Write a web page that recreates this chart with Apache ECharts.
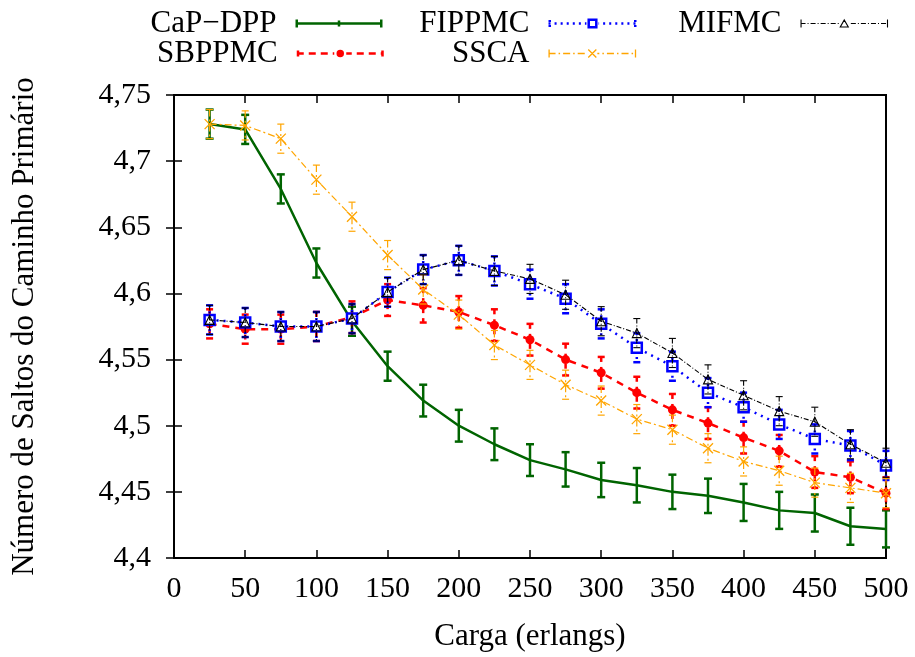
<!DOCTYPE html>
<html>
<head>
<meta charset="utf-8">
<script src="https://cdn.jsdelivr.net/npm/echarts@6/dist/echarts.min.js"></script>
<style>html,body{margin:0;padding:0;background:#fff}#c{width:915px;height:657px}</style>
</head>
<body>
<div id="c"></div>
<script>
// ---- data ----
const loads = [25,50,75,100,125,150,175,200,225,250,275,300,325,350,375,400,425,450,475,500];
const capDpp = [4.728,4.724,4.679,4.623,4.579,4.545,4.519,4.500,4.486,4.474,4.467,4.459,4.455,4.450,4.447,4.442,4.436,4.434,4.424,4.422];
const capErr = [0.011,0.011,0.011,0.011,0.011,0.011,0.012,0.012,0.012,0.012,0.013,0.013,0.013,0.013,0.013,0.014,0.014,0.014,0.014,0.014];
const sbppmc = [4.577,4.573,4.573,4.575,4.582,4.595,4.591,4.586,4.576,4.565,4.550,4.540,4.525,4.512,4.502,4.491,4.481,4.465,4.461,4.449];
const sbErr  = [0.011,0.011,0.011,0.011,0.012,0.012,0.013,0.012,0.012,0.012,0.012,0.012,0.012,0.012,0.012,0.012,0.012,0.012,0.012,0.012];
const fippmc = [4.580,4.578,4.575,4.575,4.581,4.601,4.618,4.625,4.617,4.607,4.596,4.577,4.559,4.545,4.525,4.514,4.501,4.490,4.485,4.470];
const fiErr  = [0.011,0.011,0.011,0.011,0.011,0.011,0.011,0.011,0.011,0.011,0.011,0.011,0.011,0.011,0.011,0.011,0.011,0.011,0.011,0.011];
const ssca   = [4.728,4.727,4.717,4.686,4.658,4.629,4.603,4.584,4.561,4.546,4.531,4.519,4.505,4.497,4.483,4.473,4.466,4.457,4.453,4.449];
const sscaErr= [0.011,0.011,0.011,0.011,0.011,0.011,0.011,0.011,0.011,0.011,0.011,0.011,0.011,0.011,0.011,0.011,0.011,0.011,0.011,0.011];
const mifmc  = [4.580,4.578,4.575,4.575,4.581,4.601,4.618,4.625,4.617,4.611,4.599,4.579,4.570,4.555,4.535,4.523,4.511,4.503,4.486,4.472];
const miErr  = [0.011,0.011,0.011,0.011,0.011,0.011,0.011,0.011,0.011,0.011,0.011,0.011,0.011,0.011,0.011,0.011,0.011,0.011,0.011,0.011];
const xTicks = [0,50,100,150,200,250,300,350,400,450,500];
const yTicks = [4.4,4.45,4.5,4.55,4.6,4.65,4.7,4.75];
const names = ['CaP\u2212DPP','SBPPMC','FIPPMC','SSCA','MIFMC'];

const FONT = 'Liberation Serif';
const pairs = (vals) => loads.map((x,i)=>[x, vals[i]]);
const errData = (vals, errs) => loads.map((x,i)=>[x, vals[i]-errs[i], vals[i]+errs[i]]);

function errSeries(name, vals, errs, color, width, dash, cap, z) {
  return {
    type: 'custom', name: name + ' err', z: z, clip: false,
    data: errData(vals, errs),
    encode: {x: 0, y: [1, 2]},
    renderItem: function (params, api) {
      const x = api.value(0), lo = api.value(1), hi = api.value(2);
      const a = api.coord([x, hi]), b = api.coord([x, lo]);
      const st = {stroke: color, lineWidth: width, lineDash: dash};
      return {type: 'group', children: [
        {type: 'line', shape: {x1: a[0], y1: a[1], x2: b[0], y2: b[1]}, style: st},
        {type: 'line', shape: {x1: a[0]-cap, y1: a[1], x2: a[0]+cap, y2: a[1]}, style: {stroke: color, lineWidth: width}},
        {type: 'line', shape: {x1: b[0]-cap, y1: b[1], x2: b[0]+cap, y2: b[1]}, style: {stroke: color, lineWidth: width}}
      ]};
    }
  };
}

const GREEN = '#006400', RED = '#ff0000', BLUE = '#0000ff', BLACK = '#000000', ORANGE = '#ffa500';
const xPath = 'path://M0,0L10,10M10,0L0,10';

// legend sample icons (87 x 10 box), built as stroked paths
const IW = 87, IC = 43.5;
function dashed(pattern, skip) {
  let s = '', x = 0, k = 0;
  while (x < IW) {
    const len = pattern[k % pattern.length];
    if (k % 2 === 0) {
      const x2 = Math.min(IW, x + len);
      // split around central marker
      const segs = [[x, x2]];
      segs.forEach(([u, v]) => {
        if (v <= IC - skip || u >= IC + skip) s += 'M' + u + ',5H' + v;
        else {
          if (u < IC - skip) s += 'M' + u + ',5H' + (IC - skip);
          if (v > IC + skip) s += 'M' + (IC + skip) + ',5H' + v;
        }
      });
    }
    x += len; k++;
  }
  return s;
}
const capsPath = (w, y1, y2) => 'M' + (w/2) + ',' + y1 + 'V' + y2 + 'M' + (IW - w/2) + ',' + y1 + 'V' + y2;
const icons = {
  'CaP\u2212DPP': {path: 'path://M0,5H87' + capsPath(2.5, 1, 9) + 'M43.5,2V8', color: 'none', border: GREEN, bw: 2.5},
  'SBPPMC': {path: 'path://' + dashed([7,5], 6) + capsPath(2.5, 2, 8) + 'M46,5A2.5,2.5 0 1,0 41,5A2.5,2.5 0 1,0 46,5Z', color: RED, border: RED, bw: 2.5},
  'FIPPMC': {path: 'path://' + dashed([2,4], 6) + 'M1.25,1.5V3.5M1.25,6.5V8.5M85.75,1.5V3.5M85.75,6.5V8.5M39.75,1.25H47.25V8.75H39.75Z', color: 'none', border: BLUE, bw: 2.5},
  'SSCA': {path: 'path://' + dashed([7,3,1.5,3], 5) + capsPath(1.2, 1, 9) + 'M39.5,1L47.5,9M47.5,1L39.5,9', color: 'none', border: ORANGE, bw: 1.3},
  'MIFMC': {path: 'path://' + dashed([5,2,1,2], 5) + capsPath(1.1, 1, 9) + 'M43.5,1.5L47.5,8.5L39.5,8.5Z', color: 'none', border: BLACK, bw: 1.1}
};

const series = [
  errSeries(names[0], capDpp, capErr, GREEN, 2.5, null, 4, 2),
  {type:'line', name:names[0], data: pairs(capDpp), z: 3, symbol:'none',
   lineStyle:{color:GREEN, width:2.5}, itemStyle:{color:GREEN}},
  errSeries(names[1], sbppmc, sbErr, RED, 2.5, [5,5], 3.5, 4),
  {type:'line', name:names[1], data: pairs(sbppmc), z: 5, symbol:'circle', symbolSize: 9,
   lineStyle:{color:RED, width:2.5, type:[7,6]}, itemStyle:{color:RED}},
  errSeries(names[2], fippmc, fiErr, BLUE, 2.5, [2,4], 3.5, 6),
  {type:'line', name:names[2], data: pairs(fippmc), z: 7, symbol:'rect', symbolSize: 10,
   lineStyle:{color:BLUE, width:2.5, type:[2,5]}, itemStyle:{color:'#ffffff', borderColor:BLUE, borderWidth:2.5}},
  errSeries(names[3], ssca, sscaErr, ORANGE, 1.2, [7,3,2,3], 3.5, 8),
  {type:'line', name:names[3], data: pairs(ssca), z: 9, symbol: xPath, symbolSize: 10,
   lineStyle:{color:ORANGE, width:1.2, type:[7,3,2,3]}, itemStyle:{color:'none', borderColor:ORANGE, borderWidth:1.3}},
  errSeries(names[4], mifmc, miErr, BLACK, 1.1, [5,2,1,2], 3.5, 10),
  {type:'line', name:names[4], data: pairs(mifmc), z: 11, symbol:'triangle', symbolSize: 9,
   lineStyle:{color:BLACK, width:1.1, type:[5,2,1,2]}, itemStyle:{color:'none', borderColor:BLACK, borderWidth:1.1}}
];

function legendAt(name, right, top) {
  const ic = icons[name];
  return {
    data: [{name: name, icon: ic.path,
            itemStyle: {color: ic.color, borderColor: ic.border, borderWidth: ic.bw, opacity: 1}}],
    right: right, top: top, align: 'right', orient: 'horizontal',
    itemWidth: IW, itemHeight: 10, selectedMode: false, padding: 0, symbolKeepAspect: true,
    textStyle: {fontFamily: FONT, fontSize: 31, color: '#000', padding: [0, 14, 0, 0], lineHeight: 30}
  };
}

const fmt = v => String(Math.round(v*100)/100).replace('.', ',');

const option = {
  animation: false,
  backgroundColor: '#fff',
  textStyle: {fontFamily: FONT},
  grid: {left: 174, right: 29, top: 95, bottom: 99, containLabel: false,
         show: true, borderColor: '#000', borderWidth: 2, backgroundColor: 'transparent'},
  legend: [
    legendAt(names[0], 915-385, 8),
    legendAt(names[1], 915-385, 38),
    legendAt(names[2], 915-638, 8),
    legendAt(names[3], 915-638, 38),
    legendAt(names[4], 915-890, 8)
  ],
  xAxis: [
    {type:'value', min: xTicks[0], max: xTicks[xTicks.length-1], interval: 50,
     name: 'Carga (erlangs)', nameLocation: 'middle', nameGap: 63,
     nameTextStyle: {fontFamily: FONT, fontSize: 31, color:'#000'},
     axisLine: {show: true, lineStyle:{color:'#000', width:2}},
     axisTick: {show: true, inside: true, length: 8, lineStyle:{color:'#000', width:1.5}},
     axisLabel: {fontFamily: FONT, fontSize: 30, color:'#000', margin: 16},
     splitLine: {show: false}},
    {type:'value', position:'top', min: xTicks[0], max: xTicks[xTicks.length-1], interval: 50,
     axisLine:{show:false}, axisLabel:{show:false}, splitLine:{show:false},
     axisTick:{show:true, inside:true, length:8, lineStyle:{color:'#000', width:1.5}}}
  ],
  yAxis: [
    {type:'value', min: yTicks[0], max: yTicks[yTicks.length-1], interval: 0.05,
     name: 'Número de Saltos do Caminho Primário', nameLocation: 'middle', nameGap: 134,
     nameTextStyle: {fontFamily: FONT, fontSize: 31, color:'#000'},
     axisLine: {show: true, lineStyle:{color:'#000', width:2}},
     axisTick: {show: true, inside: true, length: 8, lineStyle:{color:'#000', width:1.5}},
     axisLabel: {fontFamily: FONT, fontSize: 30, color:'#000', margin: 23, formatter: fmt},
     splitLine: {show: false}},
    {type:'value', position:'right', min: yTicks[0], max: yTicks[yTicks.length-1], interval: 0.05,
     axisLine:{show:false}, axisLabel:{show:false}, splitLine:{show:false},
     axisTick:{show:true, inside:true, length:8, lineStyle:{color:'#000', width:1.5}}}
  ],
  series: series
};

const chart = echarts.init(document.getElementById('c'), null, {renderer: 'canvas'});
chart.setOption(option);
</script>
</body>
</html>
